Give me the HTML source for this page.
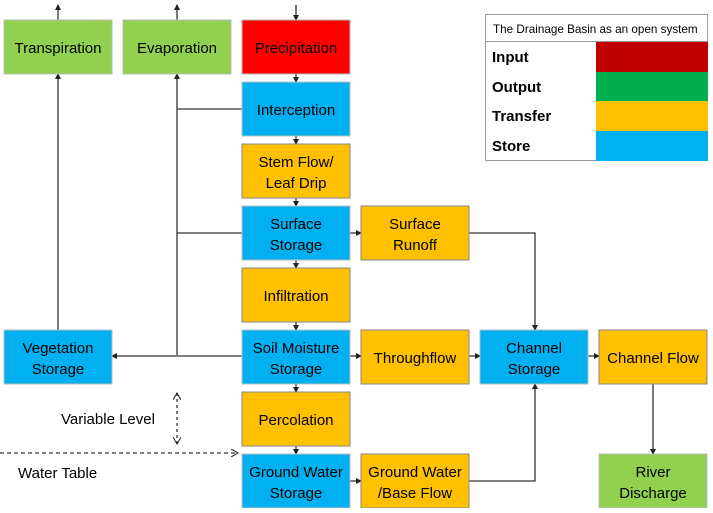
<!DOCTYPE html>
<html><head><meta charset="utf-8"><style>
body{margin:0;background:#fff;width:713px;height:508px;overflow:hidden;font-family:"Liberation Sans",sans-serif}
svg text{font-family:"Liberation Sans",sans-serif;font-size:15px;fill:#000}
</style></head><body>
<svg width="713" height="508" viewBox="0 0 713 508" xmlns="http://www.w3.org/2000/svg">
<defs>
<marker id="a" markerWidth="6" markerHeight="6" refX="5" refY="3" orient="auto" markerUnits="userSpaceOnUse"><path d="M0,0 L6,3 L0,6 z" fill="#222"/></marker>
<marker id="o" markerWidth="8" markerHeight="8" refX="7" refY="4" orient="auto-start-reverse" markerUnits="userSpaceOnUse"><path d="M0,0 L7,4 L0,8" fill="none" stroke="#222"/></marker>
</defs>
<g stroke="#333" stroke-width="1.3" fill="none">
<line x1="58" y1="20" x2="58" y2="5" marker-end="url(#a)"/>
<line x1="177" y1="20" x2="177" y2="5" marker-end="url(#a)"/>
<line x1="296" y1="5" x2="296" y2="20" marker-end="url(#a)"/>
<line x1="296" y1="74" x2="296" y2="82" marker-end="url(#a)"/>
<line x1="296" y1="136" x2="296" y2="144" marker-end="url(#a)"/>
<line x1="296" y1="198" x2="296" y2="206" marker-end="url(#a)"/>
<line x1="296" y1="260" x2="296" y2="268" marker-end="url(#a)"/>
<line x1="296" y1="322" x2="296" y2="330" marker-end="url(#a)"/>
<line x1="296" y1="384" x2="296" y2="392" marker-end="url(#a)"/>
<line x1="296" y1="446" x2="296" y2="454" marker-end="url(#a)"/>
<line x1="58" y1="330" x2="58" y2="74" marker-end="url(#a)"/>
<line x1="177" y1="355" x2="177" y2="74" marker-end="url(#a)"/>
<line x1="177" y1="109" x2="242" y2="109"/>
<line x1="177" y1="233" x2="242" y2="233"/>
<line x1="242" y1="356" x2="112" y2="356" marker-end="url(#a)"/>
<line x1="350" y1="233" x2="361" y2="233" marker-end="url(#a)"/>
<line x1="350" y1="356" x2="361" y2="356" marker-end="url(#a)"/>
<line x1="350" y1="481" x2="361" y2="481" marker-end="url(#a)"/>
<line x1="469" y1="356" x2="480" y2="356" marker-end="url(#a)"/>
<line x1="588" y1="356" x2="599" y2="356" marker-end="url(#a)"/>
<polyline points="469,233 535,233 535,330" marker-end="url(#a)"/>
<polyline points="469,481 535,481 535,384" marker-end="url(#a)"/>
<line x1="653" y1="384" x2="653" y2="454" marker-end="url(#a)"/>
<line x1="0" y1="453" x2="238" y2="453" stroke-dasharray="4,3" marker-end="url(#o)"/>
<line x1="177" y1="393" x2="177" y2="444" stroke-dasharray="3,3" marker-start="url(#o)" marker-end="url(#o)"/>
</g>
<g stroke="#bbb" stroke-width="1">
<rect x="4" y="20" width="108" height="54" fill="#92d050"/>
<rect x="123" y="20" width="108" height="54" fill="#92d050"/>
<rect x="242" y="20" width="108" height="54" fill="#ff0000"/>
<rect x="242" y="82" width="108" height="54" fill="#00b0f0"/>
<rect x="242" y="144" width="108" height="54" fill="#ffc000" stroke="#888"/>
<rect x="242" y="206" width="108" height="54" fill="#00b0f0"/>
<rect x="242" y="268" width="108" height="54" fill="#ffc000" stroke="#888"/>
<rect x="242" y="330" width="108" height="54" fill="#00b0f0"/>
<rect x="242" y="392" width="108" height="54" fill="#ffc000" stroke="#888"/>
<rect x="242" y="454" width="108" height="54" fill="#00b0f0"/>
<rect x="361" y="206" width="108" height="54" fill="#ffc000" stroke="#888"/>
<rect x="361" y="330" width="108" height="54" fill="#ffc000" stroke="#888"/>
<rect x="361" y="454" width="108" height="54" fill="#ffc000" stroke="#888"/>
<rect x="480" y="330" width="108" height="54" fill="#00b0f0"/>
<rect x="599" y="330" width="108" height="54" fill="#ffc000" stroke="#888"/>
<rect x="599" y="454" width="108" height="54" fill="#92d050"/>
<rect x="4" y="330" width="108" height="54" fill="#00b0f0"/>
</g>
<g text-anchor="middle">
<text x="58" y="53">Transpiration</text>
<text x="177" y="53">Evaporation</text>
<text x="296" y="53">Precipitation</text>
<text x="296" y="115">Interception</text>
<text x="296" y="167">Stem Flow/</text><text x="296" y="188">Leaf Drip</text>
<text x="296" y="229">Surface</text><text x="296" y="250">Storage</text>
<text x="296" y="301">Infiltration</text>
<text x="296" y="353">Soil Moisture</text><text x="296" y="374">Storage</text>
<text x="296" y="425">Percolation</text>
<text x="296" y="477">Ground Water</text><text x="296" y="498">Storage</text>
<text x="415" y="229">Surface</text><text x="415" y="250">Runoff</text>
<text x="415" y="363">Throughflow</text>
<text x="415" y="477">Ground Water</text><text x="415" y="498">/Base Flow</text>
<text x="534" y="353">Channel</text><text x="534" y="374">Storage</text>
<text x="653" y="363">Channel Flow</text>
<text x="653" y="477">River</text><text x="653" y="498">Discharge</text>
<text x="58" y="353">Vegetation</text><text x="58" y="374">Storage</text>
</g>
<text x="61" y="424">Variable Level</text>
<text x="18" y="478">Water Table</text>
<rect x="485.5" y="14.5" width="222" height="146" fill="#fff" stroke="#999"/>
<line x1="485" y1="41.5" x2="708" y2="41.5" stroke="#999"/>
<rect x="596" y="42" width="112" height="30" fill="#c00000"/>
<rect x="596" y="72" width="112" height="29" fill="#00b050"/>
<rect x="596" y="101" width="112" height="30" fill="#ffc000"/>
<rect x="596" y="131" width="112" height="30" fill="#00b0f0"/>
<text x="493" y="33" style="font-size:11.7px">The Drainage Basin as an open system</text>
<g style="font-weight:bold">
<text x="492" y="62">Input</text>
<text x="492" y="92">Output</text>
<text x="492" y="121">Transfer</text>
<text x="492" y="151">Store</text>
</g>
</svg>
</body></html>
